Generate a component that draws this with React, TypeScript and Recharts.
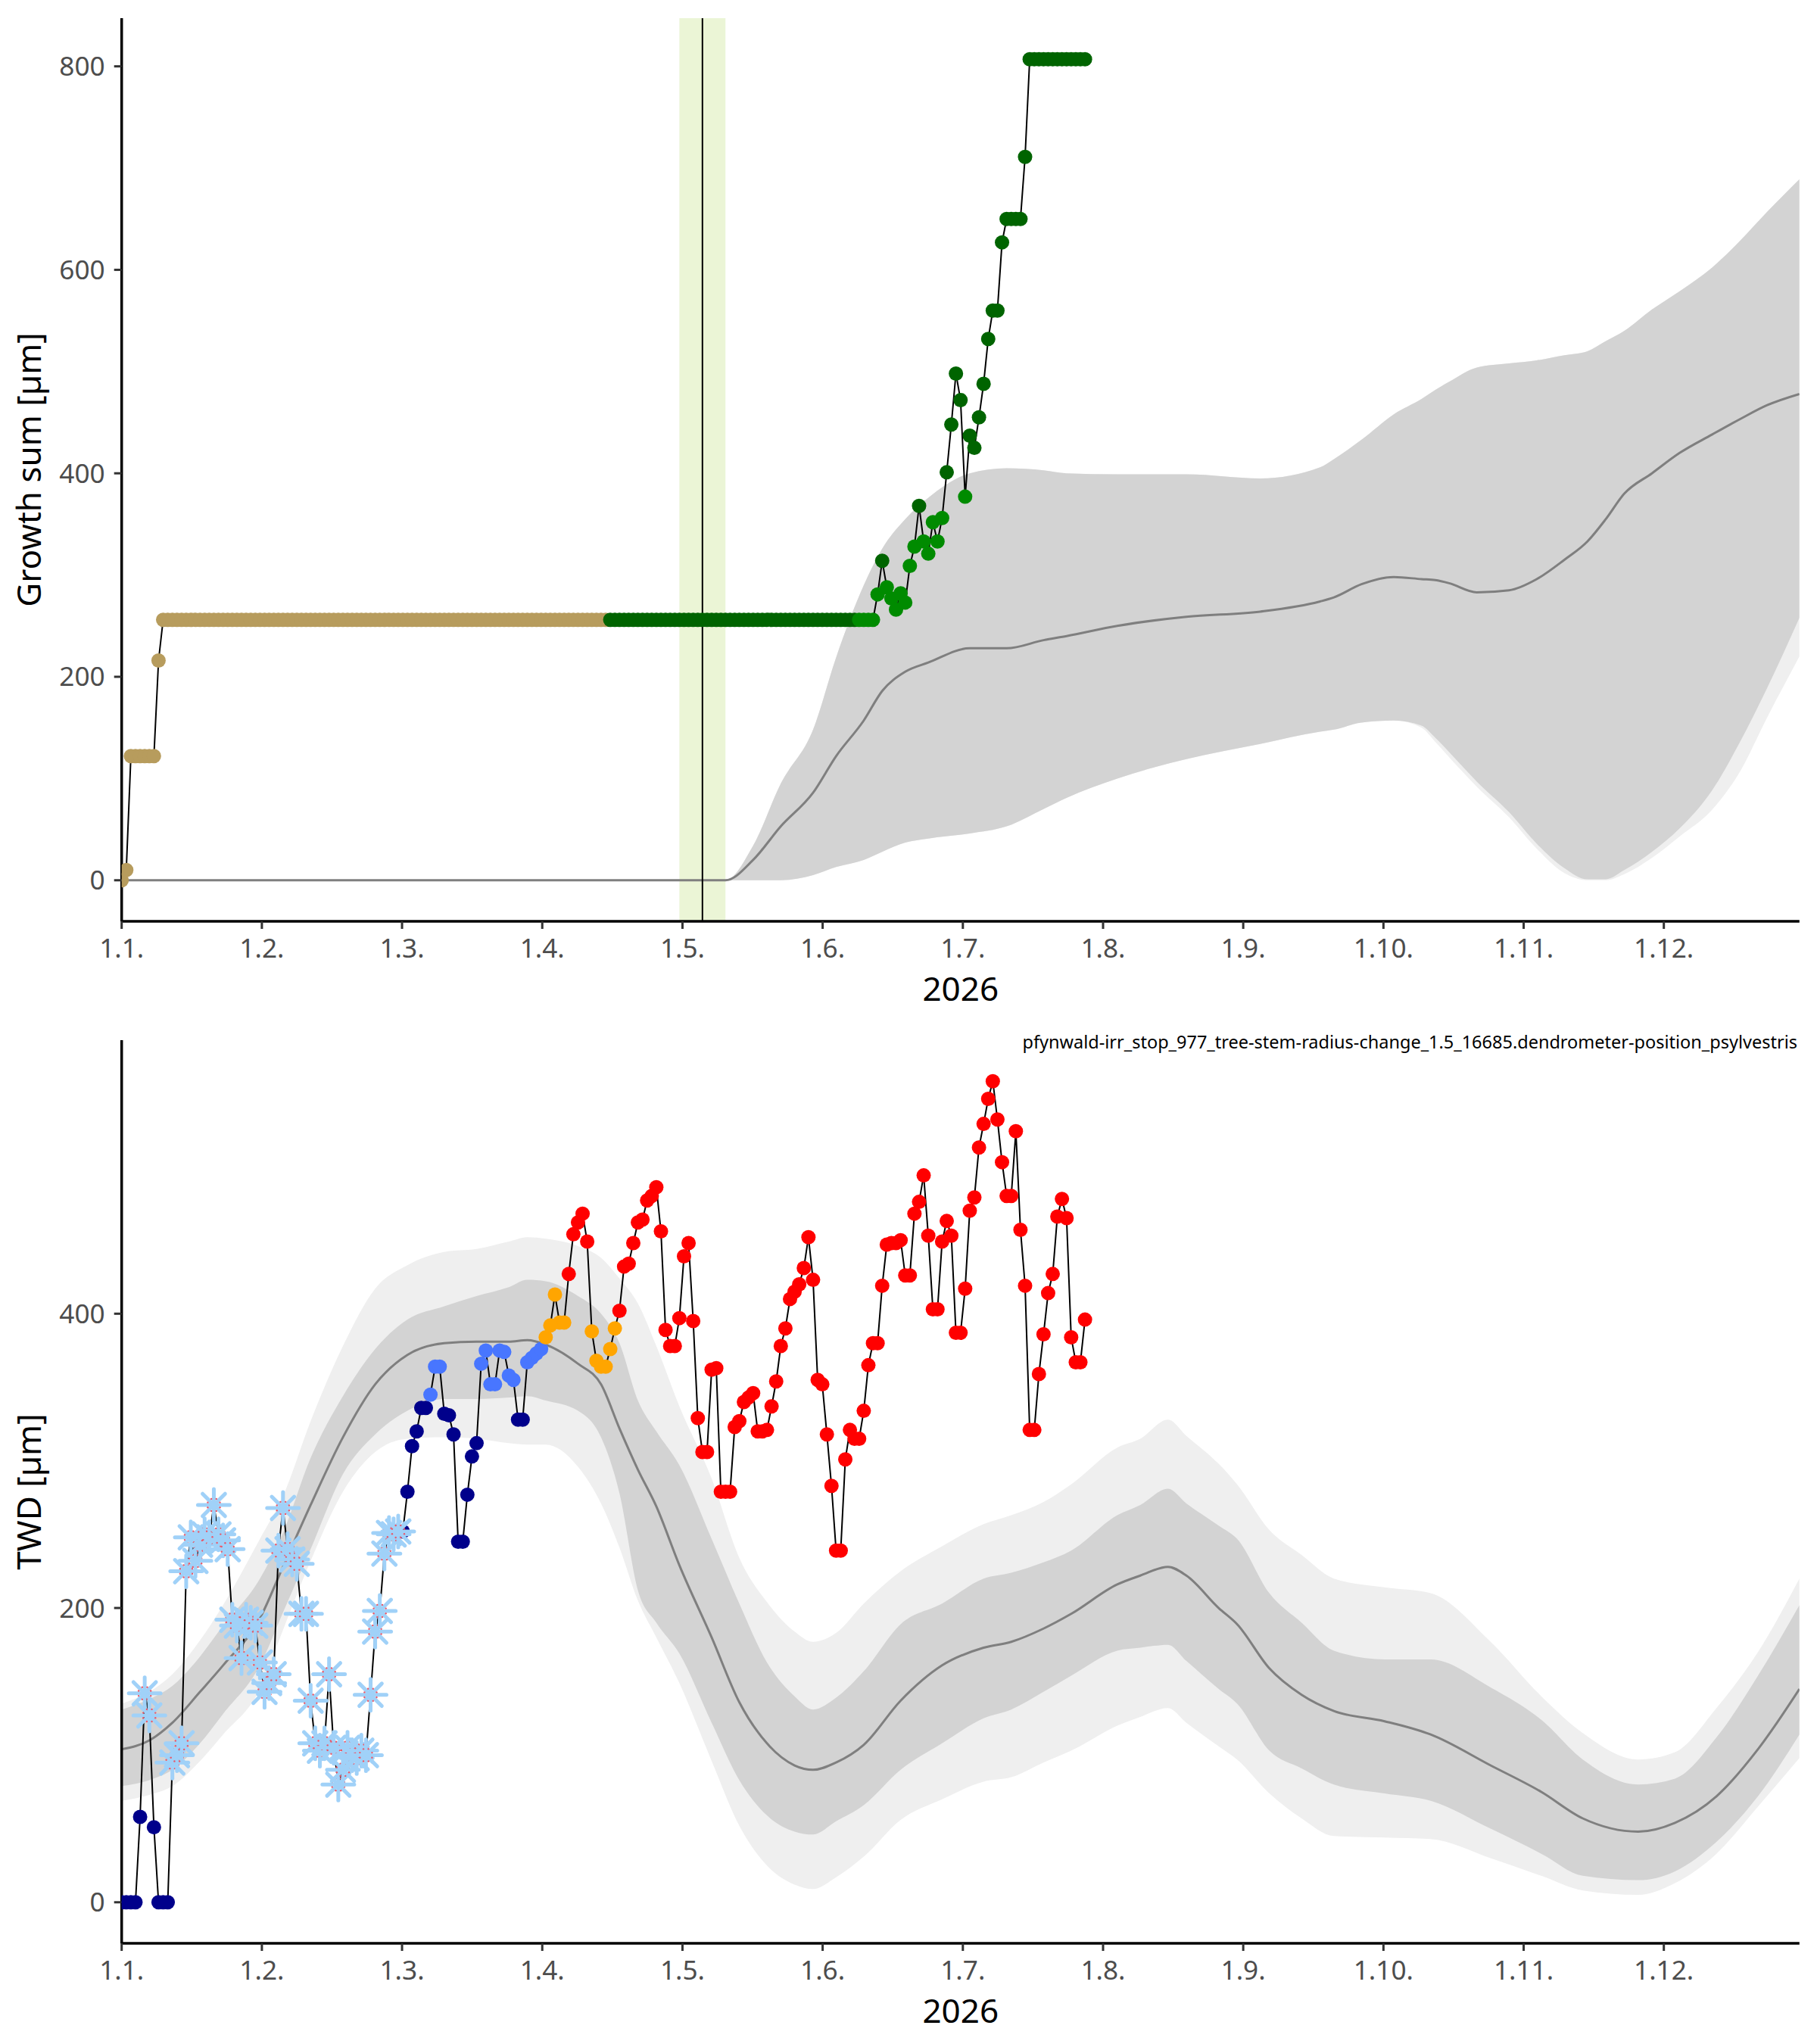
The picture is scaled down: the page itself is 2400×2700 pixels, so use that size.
import React from 'react';
import { ComposedChart, Line, Area, Scatter, XAxis, YAxis, ReferenceLine, ReferenceArea } from 'recharts';

const FONT = '"Noto Sans", "Open Sans", sans-serif';

// x axis = day of year 2026 (0 = 1 January); ticks every twelfth of the year
const monthTickDays = [0, 30.42, 60.83, 91.25, 121.67, 152.08, 182.5, 212.92, 243.33, 273.75, 304.17, 334.58];
const monthTickLabels = ['1.1.', '1.2.', '1.3.', '1.4.', '1.5.', '1.6.', '1.7.', '1.8.', '1.9.', '1.10.', '1.11.', '1.12.'];

// ---------- top panel: growth sum (one value per day, day 0 .. 209) ----------
const growthSum = [
  0, 10, 122, 122, 122, 122, 122, 122, 216, 256,
  256, 256, 256, 256, 256, 256, 256, 256, 256, 256,
  256, 256, 256, 256, 256, 256, 256, 256, 256, 256,
  256, 256, 256, 256, 256, 256, 256, 256, 256, 256,
  256, 256, 256, 256, 256, 256, 256, 256, 256, 256,
  256, 256, 256, 256, 256, 256, 256, 256, 256, 256,
  256, 256, 256, 256, 256, 256, 256, 256, 256, 256,
  256, 256, 256, 256, 256, 256, 256, 256, 256, 256,
  256, 256, 256, 256, 256, 256, 256, 256, 256, 256,
  256, 256, 256, 256, 256, 256, 256, 256, 256, 256,
  256, 256, 256, 256, 256, 256, 256, 256, 256, 256,
  256, 256, 256, 256, 256, 256, 256, 256, 256, 256,
  256, 256, 256, 256, 256, 256, 256, 256, 256, 256,
  256, 256, 256, 256, 256, 256, 256, 256, 256, 256,
  256, 256, 256, 256, 256, 256, 256, 256, 256, 256,
  256, 256, 256, 256, 256, 256, 256, 256, 256, 256,
  256, 256, 256, 256, 281, 314, 288, 277, 266, 282,
  273, 309, 328, 368, 333, 321, 352, 333, 356, 401,
  448, 498, 472, 377, 437, 425, 455, 488, 532, 560,
  560, 627, 650, 650, 650, 650, 711, 807, 807, 807,
  807, 807, 807, 807, 807, 807, 807, 807, 807, 807,
];
// phase of each growth point: A = before growth, D = growth, L = growth (light)
const growthPhaseRuns: [string, number][] = [
  ['A', 106], ['D', 54], ['L', 5], ['D', 1], ['L', 7], ['D', 1], ['L', 5], ['D', 4], ['L', 1], ['D', 26],
];

// stop-irrigation marker
const stopWindow = [121, 131];
const stopDay = 126;

// top panel climatology bands
const topKnotDays = [0, 131, 137, 143, 150, 155, 161, 165, 170, 175, 184, 192, 200, 205, 216, 231, 247, 260, 263, 269, 276, 282, 285, 288, 294, 301, 307, 313, 318, 322, 326, 332, 338, 345, 351, 357, 364];
const topMedian = [0, 0, 20, 53, 86, 122, 157, 186, 205, 214, 228, 228, 236, 240, 250, 259, 264, 274, 278, 291, 298, 296, 295, 292, 283, 285, 296, 315, 333, 355, 380, 400, 420, 438, 453, 467, 478];
const topDarkLo = [0, 0, 0, 0, 5, 13, 20, 28, 37, 41, 46, 53, 70, 81, 100, 119, 134, 146, 148, 155, 157, 152, 140, 126, 97, 67, 36, 12, 1, 1, 10, 28, 51, 88, 135, 189, 258];
const topDarkHi = [0, 0, 34, 95, 148, 219, 290, 326, 355, 376, 400, 405, 403, 400, 399, 399, 395, 406, 414, 433, 458, 473, 482, 490, 504, 508, 511, 516, 520, 530, 540, 561, 579, 602, 628, 657, 689];
const topLightLo = [0, 0, 0, 0, 5, 13, 20, 28, 37, 41, 46, 53, 70, 81, 100, 119, 134, 146, 148, 155, 157, 150, 136, 121, 92, 62, 31, 7, 0, 0, 6, 22, 43, 69, 106, 160, 220];
const topLightHi = topDarkHi;

// ---------- bottom panel: TWD (one value per day, day 0 .. 209) ----------
const twdValues = [
  0, 0, 0, 0, 58, 142, 127, 51, 0, 0,
  0, 95, 100, 108, 225, 248, 232, 243, 250, 248,
  270, 250, 246, 240, 192, 188, 166, 192, 190, 188,
  163, 143, 149, 155, 239, 268, 240, 233, 230, 196,
  196, 137, 108, 103, 108, 155, 105, 80, 90, 105,
  100, 98, 103, 100, 141, 184, 198, 237, 251, 250,
  252, 252, 279, 310, 320, 336, 336, 345, 364, 364,
  332, 331, 318, 245, 245, 277, 303, 312, 366, 375,
  352, 352, 375, 374, 358, 355, 328, 328, 367, 370,
  373, 376, 384, 392, 413, 394, 394, 427, 454, 462,
  468, 449, 388, 368, 364, 364, 376, 390, 402, 432,
  434, 448, 462, 464, 477, 480, 486, 456, 389, 378,
  378, 397, 439, 448, 395, 329, 306, 306, 362, 363,
  279, 279, 279, 323, 327, 340, 343, 346, 320, 320,
  321, 337, 354, 378, 390, 410, 415, 420, 431, 452,
  423, 355, 352, 318, 283, 239, 239, 301, 321, 315,
  315, 334, 365, 380, 380, 419, 447, 448, 448, 450,
  426, 426, 468, 476, 494, 453, 403, 403, 449, 463,
  453, 387, 387, 417, 470, 479, 513, 529, 546, 558,
  532, 503, 480, 480, 524, 457, 419, 321, 321, 359,
  386, 414, 427, 466, 478, 465, 384, 367, 367, 396,
];
// N = navy, S = frost (snowflake), B = blue, O = orange, R = red
const twdClassRuns: [string, number][] = [
  ['N', 5], ['S', 2], ['N', 4], ['S', 50], ['N', 6], ['B', 3], ['N', 8], ['B', 8], ['N', 2], ['B', 4],
  ['O', 5], ['R', 5], ['O', 6], ['R', 102],
];

const botKnotDays = [0, 6, 11, 17, 22, 30, 35, 41, 48, 55, 62, 70, 77, 84, 88, 92, 99, 104, 108, 112, 116, 121, 128, 134, 140, 146, 150, 155, 161, 169, 178, 187, 193, 200, 206, 216, 221, 227, 231, 238, 242, 249, 256, 263, 274, 284, 297, 308, 317, 329, 337, 346, 355, 364];
const botMedian = [104, 110, 122, 143, 161, 193, 228, 270, 316, 352, 372, 380, 381, 381, 382, 379, 366, 352, 322, 294, 269, 229, 180, 136, 108, 93, 90, 95, 107, 137, 161, 173, 177, 186, 196, 216, 222, 228, 222, 200, 189, 159, 141, 130, 123, 114, 93, 75, 57, 48, 54, 72, 104, 145];
const botDarkHi = [131, 138, 147, 167, 188, 220, 251, 302, 344, 376, 396, 405, 412, 418, 423, 422, 412, 400, 380, 341, 320, 297, 247, 203, 163, 140, 131, 139, 157, 189, 203, 220, 224, 231, 239, 263, 270, 281, 271, 256, 247, 210, 190, 171, 165, 165, 146, 124, 97, 80, 84, 112, 154, 202];
const botDarkLo = [79, 83, 90, 108, 128, 161, 197, 240, 291, 318, 334, 342, 342, 343, 344, 341, 334, 316, 278, 212, 190, 169, 122, 83, 59, 48, 46, 55, 66, 90, 108, 125, 131, 143, 154, 171, 173, 175, 164, 145, 135, 103, 91, 80, 74, 69, 50, 33, 18, 15, 21, 41, 72, 114];
const botLightHi = [135, 143, 155, 178, 202, 247, 276, 327, 378, 417, 433, 442, 444, 449, 452, 451, 446, 438, 424, 407, 378, 337, 288, 234, 204, 184, 177, 183, 203, 225, 242, 257, 263, 272, 284, 309, 315, 328, 317, 298, 284, 253, 236, 220, 214, 210, 177, 140, 115, 97, 102, 132, 170, 220];
const botLightLo = [69, 73, 79, 96, 114, 145, 185, 232, 279, 306, 315, 316, 315, 312, 311, 311, 296, 271, 241, 205, 180, 149, 96, 52, 25, 12, 9, 17, 31, 56, 70, 82, 85, 95, 103, 120, 126, 132, 122, 106, 97, 74, 57, 45, 44, 43, 30, 18, 8, 5, 13, 33, 65, 98];

const plotTitle = 'pfynwald-irr_stop_977_tree-stem-radius-change_1.5_16685.dendrometer-position_psylvestris';

// ---------- derived tables ----------
const expandRuns = (runs: [string, number][]) => runs.flatMap(([c, n]) => Array.from({ length: n }, () => c));
const growthPhase = expandRuns(growthPhaseRuns);
const twdClass = expandRuns(twdClassRuns);

const growthPoints = growthSum.map((y, i) => ({ x: i, y, c: growthPhase[i] }));
const twdPoints = twdValues.map((y, i) => ({ x: i, y, c: twdClass[i] }));
const twdDots = twdPoints.filter((p) => p.c !== 'S');
const twdFrost = twdPoints.filter((p) => p.c === 'S');

const topBand = topKnotDays.map((x, i) => ({
  x, med: topMedian[i], dark: [topDarkLo[i], topDarkHi[i]], light: [topLightLo[i], topLightHi[i]],
}));
const botBand = botKnotDays.map((x, i) => ({
  x, med: botMedian[i], dark: [botDarkLo[i], botDarkHi[i]], light: [botLightLo[i], botLightHi[i]],
}));

const COLORS: Record<string, string> = {
  A: '#B79C5D', D: '#006400', L: '#008B00',
  N: '#00008B', B: '#4876FF', O: '#FFA500', R: '#FF0000',
};
const FROST = '#A0D1F8';

const TOP_DOMAIN: [number, number] = [-40.35, 847.35];
const BOT_DOMAIN: [number, number] = [-27.9, 585.9];

const Dot = (p: any) => <circle cx={p.cx} cy={p.cy} r={9.5} fill={COLORS[p.payload.c]} />;

const Frost = (p: any) => {
  const { cx, cy } = p;
  const r = 21;
  const d = r * Math.SQRT1_2;
  const ring = [0, 1, 2, 3, 4, 5, 6, 7].map((k) => {
    const a = ((22.5 + k * 45) * Math.PI) / 180;
    return <circle key={k} cx={cx + 8.7 * Math.cos(a)} cy={cy + 8.7 * Math.sin(a)} r={1.2} fill="#E8596B" />;
  });
  return (
    <g>
      <g stroke={FROST} strokeWidth={5} strokeLinecap="round">
        <line x1={cx - r} y1={cy} x2={cx + r} y2={cy} />
        <line x1={cx} y1={cy - r} x2={cx} y2={cy + r} />
        <line x1={cx - d} y1={cy - d} x2={cx + d} y2={cy + d} />
        <line x1={cx - d} y1={cy + d} x2={cx + d} y2={cy - d} />
      </g>
      {ring}
    </g>
  );
};

const W = 2400;
const H = 1350;
const MARGIN = { top: 24, right: 23.2, bottom: 0, left: 0 };

const tickStyle = { fill: '#4D4D4D', fontSize: 35.2 };
const tickLine = { stroke: '#333333', strokeWidth: 3 };
const axisLine = { stroke: '#000000', strokeWidth: 3.5 };

const xAxis = () => (
  <XAxis
    type="number"
    dataKey="x"
    domain={[0, 364]}
    allowDataOverflow
    ticks={monthTickDays}
    interval={0}
    tickFormatter={(v: number) => monthTickLabels[monthTickDays.indexOf(v)]}
    height={133}
    tick={tickStyle}
    tickLine={tickLine}
    axisLine={axisLine}
    tickSize={10}
    tickMargin={13}
    label={{ value: '2026', position: 'insideBottom', offset: 28, fontSize: 44, fill: '#000000' }}
  />
);

const yAxis = (domain: [number, number], ticks: number[], title: string) => (
  <YAxis
    type="number"
    domain={domain}
    allowDataOverflow
    ticks={ticks}
    interval={0}
    width={160.7}
    tick={tickStyle}
    tickLine={tickLine}
    axisLine={axisLine}
    tickSize={10}
    tickMargin={12}
    label={{ value: title, angle: -90, position: 'insideLeft', offset: 38, fontSize: 44, fill: '#000000', style: { textAnchor: 'middle' } }}
  />
);

export default function App() {
  return (
    <div style={{ position: 'absolute', left: 0, top: 0, width: W, height: 2 * H, background: '#ffffff', fontFamily: FONT }}>
      <div style={{ position: 'absolute', left: 0, top: 0 }}>
        <ComposedChart width={W} height={H} margin={MARGIN}>
          <Area data={topBand} dataKey="light" type="monotone" fill="#EFEFEF" fillOpacity={1} stroke="none" isAnimationActive={false} />
          <Area data={topBand} dataKey="dark" type="monotone" fill="#D3D3D3" fillOpacity={1} stroke="none" isAnimationActive={false} />
          <Line data={topBand} dataKey="med" type="monotone" stroke="#7F7F7F" strokeWidth={3} dot={false} isAnimationActive={false} />
          <Line data={growthPoints} dataKey="y" type="linear" stroke="#000000" strokeWidth={2} dot={false} isAnimationActive={false} />
          <Scatter data={growthPoints} dataKey="y" shape={Dot} isAnimationActive={false} />
          <ReferenceArea x1={stopWindow[0]} x2={stopWindow[1]} fill="#9ACD32" fillOpacity={0.2} stroke="none" />
          <ReferenceLine x={stopDay} stroke="#000000" strokeWidth={2} />
          {xAxis()}
          {yAxis(TOP_DOMAIN, [0, 200, 400, 600, 800], 'Growth sum [µm]')}
        </ComposedChart>
      </div>
      <div style={{ position: 'absolute', left: 0, top: H }}>
        <ComposedChart width={W} height={H} margin={MARGIN}>
          <Area data={botBand} dataKey="light" type="monotone" fill="#EFEFEF" fillOpacity={1} stroke="none" isAnimationActive={false} />
          <Area data={botBand} dataKey="dark" type="monotone" fill="#D3D3D3" fillOpacity={1} stroke="none" isAnimationActive={false} />
          <Line data={botBand} dataKey="med" type="monotone" stroke="#7F7F7F" strokeWidth={3} dot={false} isAnimationActive={false} />
          <Line data={twdPoints} dataKey="y" type="linear" stroke="#000000" strokeWidth={2} dot={false} isAnimationActive={false} />
          <Scatter data={twdDots} dataKey="y" shape={Dot} isAnimationActive={false} />
          <Scatter data={twdFrost} dataKey="y" shape={Frost} isAnimationActive={false} />
          {xAxis()}
          {yAxis(BOT_DOMAIN, [0, 200, 400], 'TWD [µm]')}
        </ComposedChart>
      </div>
      <svg width={W} height={2 * H} style={{ position: 'absolute', left: 0, top: 0, pointerEvents: 'none' }}>
        <text x={2374} y={1385} textAnchor="end" fontSize={23.5} fill="#000000" fontFamily={FONT}>
          {plotTitle}
        </text>
      </svg>
    </div>
  );
}
